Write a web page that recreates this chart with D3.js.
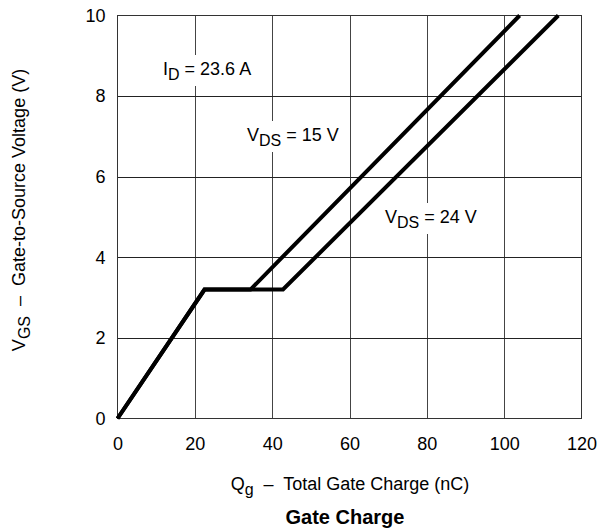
<!DOCTYPE html>
<html>
<head>
<meta charset="utf-8">
<script src="https://cdn.jsdelivr.net/npm/d3@7"></script>
<style>
body { margin: 0; background: #fff; }
svg text { font-family: "Liberation Sans", Arial, sans-serif; fill: #000; }
</style>
</head>
<body>
<div id="chart"></div>
<script>
var xTicks = [0, 20, 40, 60, 80, 100, 120];
var yTicks = [0, 2, 4, 6, 8, 10];
// gate charge (nC) vs gate-source voltage (V)
var qg15 = [0, 22.5, 34.4, 104];
var vgs15 = [0, 3.2, 3.2, 10];
var qg24 = [0, 22.5, 42.8, 114];
var vgs24 = [0, 3.2, 3.2, 10];

var width = 598, height = 529;
var plotL = 117.5, plotR = 581.5, plotT = 15.5, plotB = 418.5;

var x = d3.scaleLinear().domain([0, 120]).range([plotL, plotR]);
var y = d3.scaleLinear().domain([0, 10]).range([plotB, plotT]);

var svg = d3.select('#chart').append('svg').attr('width', width).attr('height', height);

// grid
svg.append('g').selectAll('line').data(xTicks.slice(1, -1)).enter().append('line')
    .attr('x1', function(d) { return Math.round(x(d)) + 0.5; })
    .attr('x2', function(d) { return Math.round(x(d)) + 0.5; })
    .attr('y1', plotT).attr('y2', plotB)
    .attr('stroke', '#444').attr('stroke-width', 1);
svg.append('g').selectAll('line').data(yTicks.slice(1, -1)).enter().append('line')
    .attr('x1', plotL).attr('x2', plotR)
    .attr('y1', function(d) { return Math.round(y(d)) + 0.5; })
    .attr('y2', function(d) { return Math.round(y(d)) + 0.5; })
    .attr('stroke', '#222').attr('stroke-width', 1);
svg.append('rect').attr('x', plotL).attr('y', plotT).attr('width', plotR - plotL).attr('height', plotB - plotT)
    .attr('fill', 'none').attr('stroke', '#333').attr('stroke-width', 1);

// axes labels
var xAxis = d3.axisBottom(x).tickValues(xTicks).tickSize(0).tickPadding(19);
var gx = svg.append('g').attr('transform', 'translate(0,' + plotB + ')').call(xAxis);
gx.select('.domain').remove();
gx.selectAll('text').style('font-size', '18px').style('font-family', '"Liberation Sans", Arial, sans-serif');

var yAxis = d3.axisLeft(y).tickValues(yTicks).tickSize(0).tickPadding(12);
var gy = svg.append('g').attr('transform', 'translate(' + plotL + ',0)').call(yAxis);
gy.select('.domain').remove();
gy.selectAll('text').style('font-size', '18px').style('font-family', '"Liberation Sans", Arial, sans-serif');

// annotations with white backgrounds
function label(px, py, main, sub, rest, w) {
    svg.append('rect').attr('x', px - 4).attr('y', py - 20).attr('width', w).attr('height', 31).attr('fill', '#fff');
    var t = svg.append('text').attr('x', px).attr('y', py).style('font-size', '18px');
    t.append('tspan').text(main);
    t.append('tspan').attr('dy', 5).style('font-size', '16px').text(sub);
    t.append('tspan').attr('dy', -5).text(rest);
}
label(163, 75, 'I', 'D', ' = 23.6 A', 100);
label(247, 141, 'V', 'DS', ' = 15 V', 100);
label(385, 223, 'V', 'DS', ' = 24 V', 100);

// curves
var line = d3.line().x(function(d) { return x(d[0]); }).y(function(d) { return y(d[1]); });
var curves = [d3.zip(qg15, vgs15), d3.zip(qg24, vgs24)];
svg.append('g').selectAll('path').data(curves).enter().append('path')
    .attr('d', line).attr('fill', 'none').attr('stroke', '#000')
    .attr('stroke-width', 4).attr('stroke-linejoin', 'miter');

// titles
var xt = svg.append('text').attr('x', 350).attr('y', 490).attr('text-anchor', 'middle').style('font-size', '18px');
xt.append('tspan').text('Q');
xt.append('tspan').attr('dy', 5).style('font-size', '16px').text('g');
xt.append('tspan').attr('dy', -5).attr('xml:space', 'preserve').text('  \u2013  Total Gate Charge (nC)');

svg.append('text').attr('x', 345).attr('y', 524).attr('text-anchor', 'middle')
    .style('font-size', '20px').style('font-weight', 'bold').text('Gate Charge');

var yt = svg.append('text').attr('transform', 'translate(25,210) rotate(-90)').attr('text-anchor', 'middle').style('font-size', '18px');
yt.append('tspan').text('V');
yt.append('tspan').attr('dy', 5).style('font-size', '16px').text('GS');
yt.append('tspan').attr('dy', -5).attr('xml:space', 'preserve').text('  \u2013  Gate-to-Source Voltage (V)');
</script>
</body>
</html>
